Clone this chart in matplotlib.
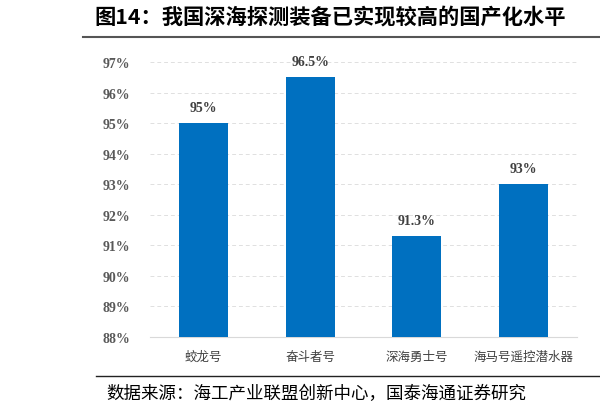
import matplotlib.pyplot as plt
from matplotlib.lines import Line2D

plt.rcParams['font.family'] = ['Noto Sans CJK SC', 'DejaVu Sans']

names = ['蛟龙号', '奋斗者号', '深海勇士号', '海马号遥控潜水器']
rates = [95, 96.5, 91.3, 93]
value_labels = ['95%', '96.5%', '91.3%', '93%']
yticks = [88, 89, 90, 91, 92, 93, 94, 95, 96, 97]

fig = plt.figure(figsize=(6, 4.14), dpi=100)
ax = fig.add_axes([0.25, 0.1836, 0.7117, 0.6643])

x = range(len(names))
ax.bar(x, [r - 88 for r in rates], bottom=88, width=0.46, color='#0070C0', zorder=3)
for i, (r, s) in enumerate(zip(rates, value_labels)):
    ax.text(i, r + 0.3, s, ha='center', va='bottom', fontsize=10, fontweight='bold',
            color='#404040', family='Liberation Serif')

ax.set_xlim(-0.5, len(names) - 0.5)
ax.set_ylim(88, 97)
ax.set_yticks(yticks)
ax.set_yticklabels(['%d%%' % t for t in yticks], family='Liberation Serif',
                   fontweight='bold', fontsize=10, color='#595959')
ax.set_xticks(list(x))
ax.set_xticklabels(names, fontsize=9, color='#404040')
ax.tick_params(length=0)
ax.tick_params(axis='y', pad=14)
ax.tick_params(axis='x', pad=9)
ax.grid(axis='y', color='#e0e0e0', linestyle=(0, (4, 3)), linewidth=0.7, zorder=0)
for side in ['top', 'right', 'left']:
    ax.spines[side].set_visible(False)
ax.spines['bottom'].set_color('#d9d9d9')

fig.text(0.158, 0.958, '图14：我国深海探测装备已实现较高的国产化水平', fontsize=15.3,
         fontweight='bold', va='center', ha='left')
fig.add_artist(Line2D([0.138, 1.0], [1 - 38 / 414] * 2, color='#555555', linewidth=1.5))
fig.add_artist(Line2D([0.16, 1.0], [1 - 377 / 414] * 2, color='#222222', linewidth=1.0))
fig.text(0.178, 1 - 394 / 414, '数据来源：海工产业联盟创新中心，国泰海通证券研究', fontsize=12.6,
         va='center', ha='left')

fig.savefig('out.png', dpi=100)
